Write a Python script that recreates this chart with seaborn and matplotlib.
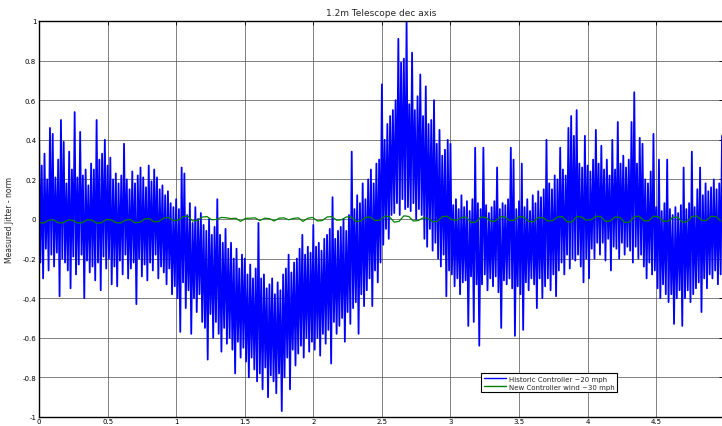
import numpy as np
import pandas as pd
import matplotlib
matplotlib.use("Agg")
import matplotlib.pyplot as plt
import seaborn as sns

# Historic controller jitter, sampled every 0.01 (ten samples per row)
historic_dt = 0.01
historic = [
    0.46, -0.22, 0.27, -0.30, 0.33, -0.15, 0.20, -0.26, 0.46, -0.18,
    0.43, -0.24, 0.21, -0.17, 0.30, -0.39, 0.50, -0.20, 0.39, -0.22,
    0.18, -0.26, 0.34, -0.35, 0.25, -0.19, 0.54, -0.28, 0.21, -0.23,
    0.44, -0.18, 0.22, -0.40, 0.25, -0.21, 0.17, -0.27, 0.28, -0.24,
    0.25, -0.31, 0.50, -0.22, 0.30, -0.36, 0.33, -0.19, 0.40, -0.25,
    0.27, -0.20, 0.31, -0.33, 0.20, -0.24, 0.23, -0.34, 0.18, -0.21,
    0.22, -0.28, 0.38, -0.18, 0.20, -0.30, 0.15, -0.25, 0.24, -0.22,
    0.18, -0.43, 0.22, -0.20, 0.26, -0.29, 0.21, -0.23, 0.16, -0.31,
    0.27, -0.22, 0.19, -0.26, 0.25, -0.18, 0.21, -0.30, 0.15, -0.24,
    0.17, -0.27, 0.12, -0.33, 0.14, -0.25, 0.08, -0.38, 0.06, -0.34,
    0.10, -0.40, 0.05, -0.57, 0.26, -0.32, 0.23, -0.45, 0.02, -0.36,
    0.08, -0.58, -0.02, -0.40, 0.06, -0.47, 0.00, -0.38, 0.03, -0.52,
    -0.03, -0.55, -0.06, -0.71, 0.00, -0.48, -0.08, -0.60, -0.04, -0.52,
    0.10, -0.58, -0.08, -0.67, -0.12, -0.55, -0.05, -0.63, -0.15, -0.60,
    -0.12, -0.66, -0.20, -0.78, -0.15, -0.62, -0.25, -0.70, -0.18, -0.65,
    -0.20, -0.72, -0.28, -0.80, -0.23, -0.70, -0.30, -0.76, -0.25, -0.82,
    -0.02, -0.78, -0.30, -0.86, -0.28, -0.75, -0.35, -0.90, -0.33, -0.79,
    -0.30, -0.82, -0.38, -0.88, -0.32, -0.78, -0.36, -0.97, -0.28, -0.80,
    -0.25, -0.70, -0.18, -0.86, -0.27, -0.66, -0.22, -0.74, -0.20, -0.68,
    -0.15, -0.64, -0.08, -0.70, -0.18, -0.60, -0.14, -0.67, -0.17, -0.62,
    -0.03, -0.66, -0.14, -0.60, -0.12, -0.69, -0.16, -0.58, -0.10, -0.63,
    -0.08, -0.56, -0.05, -0.73, 0.11, -0.52, -0.10, -0.58, -0.06, -0.54,
    -0.04, -0.50, 0.00, -0.62, -0.06, -0.47, 0.02, -0.53, 0.34, -0.45,
    0.05, -0.42, 0.12, -0.58, 0.08, -0.38, 0.18, -0.44, 0.10, -0.36,
    0.20, -0.30, 0.25, -0.44, 0.18, -0.26, 0.28, -0.32, 0.30, -0.22,
    0.68, -0.13, 0.40, -0.05, 0.48, -0.10, 0.52, 0.02, 0.55, 0.03,
    0.60, 0.08, 0.91, 0.02, 0.79, 0.10, 0.81, 0.05, 1.00, 0.06,
    0.58, 0.04, 0.84, 0.08, 0.55, 0.00, 0.62, 0.05, 0.73, 0.02,
    0.52, -0.10, 0.67, -0.14, 0.48, -0.05, 0.50, -0.16, 0.60, -0.12,
    0.38, -0.20, 0.45, -0.24, 0.32, -0.18, 0.35, -0.39, 0.40, -0.26,
    0.38, -0.28, 0.07, -0.34, 0.10, -0.30, 0.05, -0.38, 0.12, -0.32,
    0.06, -0.31, 0.09, -0.54, 0.04, -0.29, 0.10, -0.52, 0.36, -0.33,
    0.08, -0.64, 0.05, -0.33, 0.36, -0.28, 0.07, -0.36, 0.03, -0.30,
    0.06, -0.34, 0.09, -0.29, 0.26, -0.37, 0.05, -0.55, 0.08, -0.31,
    0.07, -0.33, 0.10, -0.30, 0.36, -0.35, 0.30, -0.59, 0.05, -0.34,
    0.09, -0.38, 0.28, -0.56, 0.06, -0.32, 0.10, -0.36, 0.04, -0.30,
    0.12, -0.33, 0.08, -0.45, 0.14, -0.30, 0.11, -0.40, 0.15, -0.34,
    0.40, -0.30, 0.18, -0.36, 0.15, -0.28, 0.22, -0.39, 0.20, -0.26,
    0.36, -0.22, 0.25, -0.28, 0.22, -0.18, 0.46, -0.25, 0.52, -0.20,
    0.42, -0.21, 0.55, -0.18, 0.28, -0.24, 0.26, -0.32, 0.42, -0.20,
    0.27, -0.30, 0.24, -0.15, 0.30, -0.20, 0.45, -0.12, 0.28, -0.18,
    0.37, -0.12, 0.25, -0.21, 0.30, -0.10, 0.22, -0.26, 0.40, -0.14,
    0.25, -0.15, 0.49, -0.20, 0.28, -0.12, 0.32, -0.18, 0.26, -0.14,
    0.30, -0.16, 0.49, -0.22, 0.64, -0.14, 0.28, -0.20, 0.41, -0.18,
    0.38, -0.24, 0.20, -0.30, 0.18, -0.22, 0.24, -0.28, 0.43, -0.26,
    0.06, -0.35, 0.30, -0.40, 0.04, -0.33, 0.08, -0.38, 0.30, -0.42,
    0.05, -0.38, 0.02, -0.53, 0.06, -0.40, 0.03, -0.36, 0.07, -0.54,
    0.26, -0.40, 0.05, -0.36, 0.08, -0.42, 0.34, -0.38, 0.06, -0.35,
    0.15, -0.32, 0.26, -0.47, 0.12, -0.30, 0.18, -0.35, 0.14, -0.28,
    0.16, -0.30, 0.20, -0.26, 0.15, -0.33, 0.18, -0.28, 0.42, -0.25,
]

# New controller jitter, sampled every 0.035
new_dt = 0.035
new = [
    -0.018, -0.020, -0.006, -0.004, -0.019, -0.020, -0.005, -0.006,
    -0.020, -0.019, -0.004, -0.005, -0.021, -0.019, -0.003, -0.004,
    -0.018, -0.020, -0.006, -0.002, -0.019, -0.017, 0.000, 0.002,
    -0.015, -0.012, 0.005, 0.008, -0.008, -0.006, 0.012, 0.015,
    -0.010, -0.008, 0.010, 0.012, -0.004, -0.002, 0.008, 0.006,
    0.002, 0.004, -0.012, 0.003, 0.004, 0.006, -0.008, 0.004,
    0.002, -0.010, 0.004, 0.006, -0.004, 0.003, 0.006, -0.012,
    0.004, 0.008, -0.010, -0.008, 0.010, 0.012, -0.006, -0.004,
    0.010, 0.011, -0.012, -0.010, 0.008, 0.010, -0.008, -0.006,
    0.014, 0.012, -0.016, -0.012, 0.016, 0.013, -0.010, -0.008,
    0.006, 0.004, -0.014, -0.012, 0.012, 0.014, -0.004, -0.006,
    0.008, 0.010, -0.018, -0.016, 0.010, 0.008, -0.010, -0.012,
    0.010, 0.012, -0.008, -0.006, 0.012, 0.010, -0.012, -0.014,
    0.008, 0.006, -0.010, -0.008, 0.010, 0.012, -0.014, -0.016,
    0.012, 0.010, -0.006, -0.004, 0.014, 0.012, -0.012, -0.010,
    0.010, 0.008, -0.018, -0.016, 0.012, 0.014, -0.008, -0.010,
    0.014, 0.012, -0.010, -0.012, 0.008, 0.010, -0.016, -0.014,
    0.012, 0.016, -0.006, -0.008, 0.014, 0.012, -0.010,
]

labels = ["Historic Controller ~20 mph", "New Controller wind ~30 mph"]
x_ticks = [0, 0.5, 1, 1.5, 2, 2.5, 3, 3.5, 4, 4.5]
x_tick_labels = ["0", "0.5", "1", "1.5", "2", "2.5", "3", "3.5", "4", "4.5"]
y_ticks = [-1, -0.8, -0.6, -0.4, -0.2, 0, 0.2, 0.4, 0.6, 0.8, 1]
y_tick_labels = ["-1", "-0.8", "-0.6", "-0.4", "-0.2", "0", "0.2", "0.4", "0.6", "0.8", "1"]

df_hist = pd.DataFrame({"t": np.arange(len(historic)) * historic_dt, "jitter": historic})
df_new = pd.DataFrame({"t": np.arange(len(new)) * new_dt, "jitter": new})

sns.set_style("white")
plt.rcParams["font.family"] = ["DejaVu Sans"]

fig = plt.figure(figsize=(7.22, 4.27), dpi=100)
ax = fig.add_axes([39 / 722, 1 - 418 / 427, 1.001 - 39 / 722, 396 / 427])

sns.lineplot(data=df_hist, x="t", y="jitter", ax=ax, color="#0000ff",
             linewidth=1.3, estimator=None, sort=False, label=labels[0])
sns.lineplot(data=df_new, x="t", y="jitter", ax=ax, color="#008000",
             linewidth=0.9, estimator=None, sort=False, label=labels[1])

ax.set_xlim(0, 4.985)
ax.set_ylim(-1, 1)
ax.set_xticks(x_ticks)
ax.set_xticklabels(x_tick_labels)
ax.set_yticks(y_ticks)
ax.set_yticklabels(y_tick_labels)
ax.tick_params(axis="both", direction="in", labelsize=5, length=3,
               width=0.6, pad=2, top=True, right=True, colors="black")
ax.tick_params(axis="x", pad=1)
ax.grid(True, color="#555555", linewidth=0.7, alpha=0.75)

for side in ["left", "bottom", "top"]:
    ax.spines[side].set_visible(True)
    ax.spines[side].set_color("black")
    ax.spines[side].set_linewidth(1.0)
ax.spines["right"].set_visible(False)

ax.set_xlabel("")
ax.set_ylabel("Measured Jitter - norm", fontsize=5.5, labelpad=6)
ax.set_title("1.2m Telescope dec axis", fontsize=6.5, pad=4)

leg = ax.legend(loc="lower left", bbox_to_anchor=(0.647, 0.063),
                fontsize=5, frameon=True, fancybox=False, handlelength=3.2,
                borderpad=0.35, labelspacing=0.25, handletextpad=0.4,
                borderaxespad=0)
for handle in leg.get_lines():
    handle.set_linewidth(1.0)
leg.get_frame().set_edgecolor("black")
leg.get_frame().set_linewidth(0.8)
leg.get_frame().set_alpha(1)

fig.savefig("out.png", dpi=100)
